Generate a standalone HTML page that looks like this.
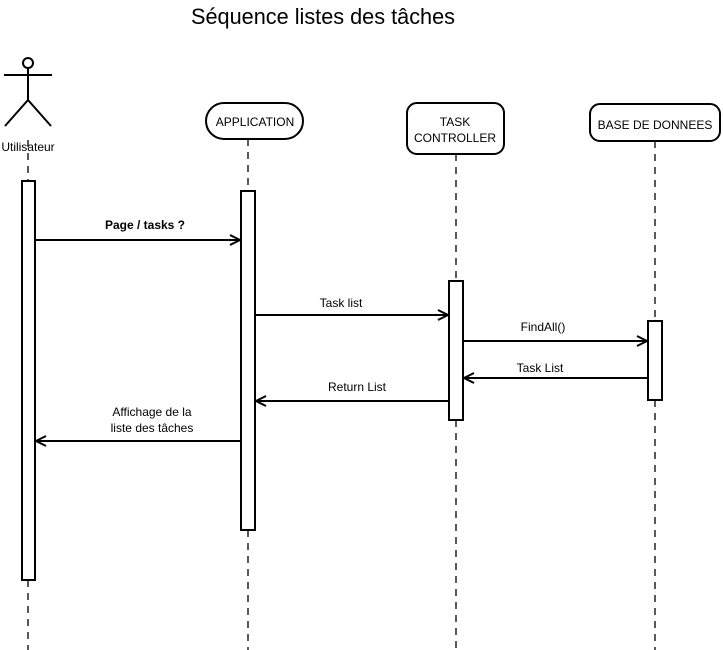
<!DOCTYPE html>
<html><head><meta charset="utf-8"><style>
html,body{margin:0;padding:0;background:#fff;}
svg{display:block;}
text{font-family:"Liberation Sans","DejaVu Sans",sans-serif;fill:#000;}
</style></head><body>
<svg width="723" height="650" viewBox="0 0 723 650" xmlns="http://www.w3.org/2000/svg">
<rect width="723" height="650" fill="#fff"/>
<text x="323" y="24" font-size="22" text-anchor="middle" textLength="264" lengthAdjust="spacingAndGlyphs">Séquence listes des tâches</text>

<g stroke="#000" stroke-width="2" fill="none">
<circle cx="28" cy="63" r="5"/>
<line x1="28" y1="68" x2="28" y2="100"/>
<line x1="4" y1="75" x2="52" y2="75"/>
<line x1="28" y1="100" x2="5" y2="126"/>
<line x1="28" y1="100" x2="51" y2="126"/>
</g>
<text x="28" y="151" font-size="12" text-anchor="middle">Utilisateur</text>

<g stroke="#000" stroke-width="1.3" stroke-dasharray="7,6" fill="none">
<line x1="28" y1="140" x2="28" y2="181"/>
<line x1="28" y1="580" x2="28" y2="650"/>
<line x1="248" y1="139" x2="248" y2="191"/>
<line x1="248" y1="530" x2="248" y2="650"/>
<line x1="456" y1="154" x2="456" y2="281"/>
<line x1="456" y1="420" x2="456" y2="650"/>
<line x1="655" y1="141" x2="655" y2="321"/>
<line x1="655" y1="400" x2="655" y2="650"/>
</g>

<g stroke="#000" stroke-width="2" fill="#fff">
<rect x="206" y="103" width="97" height="36" rx="18"/>
<rect x="407" y="103" width="97" height="51" rx="10"/>
<rect x="590" y="104" width="130" height="37" rx="10"/>
<rect x="22" y="181" width="13" height="399"/>
<rect x="241" y="191" width="14" height="339"/>
<rect x="449" y="281" width="14" height="139"/>
<rect x="648" y="321" width="14" height="79"/>
</g>
<text x="255" y="126" font-size="12" text-anchor="middle">APPLICATION</text>
<text x="455" y="126" font-size="12" text-anchor="middle">TASK</text>
<text x="455" y="142" font-size="12" text-anchor="middle">CONTROLLER</text>
<text x="655" y="129" font-size="12" text-anchor="middle">BASE DE DONNEES</text>

<g stroke="#000" stroke-width="2" fill="none">
<line x1="35" y1="240" x2="240" y2="240"/><polyline points="230,235 240,240 230,245"/>
<line x1="255" y1="315" x2="448" y2="315"/><polyline points="438,310 448,315 438,320"/>
<line x1="463" y1="341" x2="647" y2="341"/><polyline points="637,336 647,341 637,346"/>
<line x1="648" y1="378" x2="464" y2="378"/><polyline points="474,373 464,378 474,383"/>
<line x1="449" y1="401" x2="256" y2="401"/><polyline points="266,396 256,401 266,406"/>
<line x1="241" y1="441" x2="36" y2="441"/><polyline points="46,436 36,441 46,446"/>
</g>
<text x="145" y="229" font-size="12" font-weight="bold" text-anchor="middle">Page / tasks ?</text>
<text x="341" y="307" font-size="12" text-anchor="middle">Task list</text>
<text x="543" y="331" font-size="12" text-anchor="middle">FindAll()</text>
<text x="540" y="372" font-size="12" text-anchor="middle">Task List</text>
<text x="357" y="391" font-size="12" text-anchor="middle">Return List</text>
<text x="152" y="416" font-size="12" text-anchor="middle">Affichage de la</text>
<text x="152" y="432" font-size="12" text-anchor="middle">liste des tâches</text>
</svg>
</body></html>
